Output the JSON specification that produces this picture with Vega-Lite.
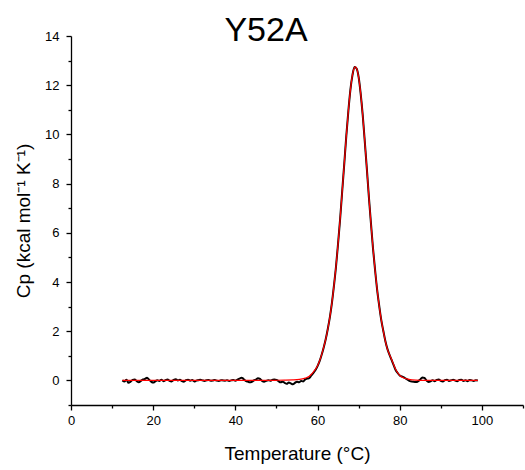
{
  "$schema": "https://vega.github.io/schema/vega-lite/v6.json",
  "width": 452,
  "height": 369,
  "autosize": {"type": "none"},
  "padding": {"left": 71, "top": 36, "right": 2, "bottom": 65},
  "background": "white",
  "title": {
    "text": "Y52A",
    "font": "Liberation Sans",
    "fontSize": 34,
    "fontWeight": "normal",
    "color": "black",
    "anchor": "middle",
    "frame": "group",
    "baseline": "alphabetic",
    "offset": -45,
    "dx": -31
  },
  "config": {
    "view": {"stroke": null},
    "font": "Liberation Sans",
    "axis": {
      "domainColor": "black",
      "domainWidth": 1.3,
      "tickColor": "black",
      "tickWidth": 1.3,
      "labelColor": "black",
      "titleColor": "black",
      "labelFont": "Liberation Sans",
      "titleFont": "Liberation Sans",
      "labelFontSize": 13,
      "titleFontSize": 19,
      "titleFontWeight": "normal",
      "grid": false,
      "labelOverlap": false,
      "labelFlush": false
    }
  },
  "datasets": {
    "exp": [
      {"T": 12.5, "cp": 0.0}, {"T": 13, "cp": -0.04}, {"T": 13.5, "cp": 0.03}, {"T": 14, "cp": -0.1}, {"T": 14.5, "cp": -0.05},
      {"T": 15, "cp": 0.02}, {"T": 15.5, "cp": 0.04}, {"T": 16, "cp": -0.03}, {"T": 16.5, "cp": -0.08}, {"T": 17, "cp": -0.02},
      {"T": 17.5, "cp": 0.04}, {"T": 18, "cp": 0.06}, {"T": 18.5, "cp": 0.11}, {"T": 19, "cp": 0.03}, {"T": 19.5, "cp": -0.05},
      {"T": 20, "cp": -0.09}, {"T": 20.5, "cp": -0.04}, {"T": 21, "cp": 0.01}, {"T": 21.5, "cp": -0.02}, {"T": 22, "cp": 0.03},
      {"T": 22.5, "cp": -0.03}, {"T": 23, "cp": 0.01}, {"T": 23.5, "cp": 0.04}, {"T": 24, "cp": -0.02}, {"T": 24.5, "cp": -0.04},
      {"T": 25, "cp": 0.02}, {"T": 25.5, "cp": 0.05}, {"T": 26, "cp": 0.0}, {"T": 26.5, "cp": 0.03}, {"T": 27, "cp": -0.03},
      {"T": 27.5, "cp": -0.05}, {"T": 28, "cp": 0.01}, {"T": 28.5, "cp": 0.03}, {"T": 29, "cp": -0.01}, {"T": 29.5, "cp": 0.02},
      {"T": 30, "cp": -0.04}, {"T": 30.5, "cp": -0.01}, {"T": 31, "cp": 0.01}, {"T": 31.5, "cp": 0.03}, {"T": 32, "cp": 0.0},
      {"T": 32.5, "cp": -0.02}, {"T": 33, "cp": 0.01}, {"T": 33.5, "cp": 0.02}, {"T": 34, "cp": -0.01}, {"T": 34.5, "cp": 0.0},
      {"T": 35, "cp": 0.02}, {"T": 35.5, "cp": -0.01}, {"T": 36, "cp": -0.02}, {"T": 36.5, "cp": 0.01}, {"T": 37, "cp": 0.0},
      {"T": 37.5, "cp": -0.01}, {"T": 38, "cp": 0.01}, {"T": 38.5, "cp": -0.02}, {"T": 39, "cp": 0.0}, {"T": 39.5, "cp": 0.02},
      {"T": 40, "cp": -0.01}, {"T": 40.5, "cp": 0.03}, {"T": 41, "cp": 0.07}, {"T": 41.5, "cp": 0.11}, {"T": 42, "cp": 0.06},
      {"T": 42.5, "cp": -0.02}, {"T": 43, "cp": -0.05}, {"T": 43.5, "cp": -0.08}, {"T": 44, "cp": -0.06}, {"T": 44.5, "cp": 0.0},
      {"T": 45, "cp": 0.03}, {"T": 45.5, "cp": 0.09}, {"T": 46, "cp": 0.06}, {"T": 46.5, "cp": -0.02}, {"T": 47, "cp": -0.05},
      {"T": 47.5, "cp": -0.02}, {"T": 48, "cp": 0.01}, {"T": 48.5, "cp": -0.01}, {"T": 49, "cp": 0.02}, {"T": 49.5, "cp": 0.04},
      {"T": 50, "cp": 0.02}, {"T": 50.5, "cp": -0.03}, {"T": 51, "cp": -0.08}, {"T": 51.5, "cp": -0.05}, {"T": 52, "cp": -0.1},
      {"T": 52.5, "cp": -0.14}, {"T": 53, "cp": -0.09}, {"T": 53.5, "cp": -0.12}, {"T": 54, "cp": -0.16}, {"T": 54.5, "cp": -0.1},
      {"T": 55, "cp": -0.05}, {"T": 55.5, "cp": -0.08}, {"T": 56, "cp": -0.02}, {"T": 56.5, "cp": -0.04}, {"T": 57, "cp": 0.04},
      {"T": 57.5, "cp": 0.07}, {"T": 58, "cp": 0.1}, {"T": 58.5, "cp": 0.2}, {"T": 59, "cp": 0.3}, {"T": 59.5, "cp": 0.42},
      {"T": 60, "cp": 0.58}, {"T": 60.5, "cp": 0.78}, {"T": 61, "cp": 1.04}, {"T": 61.5, "cp": 1.34}, {"T": 62, "cp": 1.68},
      {"T": 62.5, "cp": 2.1}, {"T": 63, "cp": 2.57}, {"T": 63.5, "cp": 3.15}, {"T": 64, "cp": 3.86}, {"T": 64.5, "cp": 4.64},
      {"T": 65, "cp": 5.58}, {"T": 65.5, "cp": 6.57}, {"T": 66, "cp": 7.69}, {"T": 66.5, "cp": 8.8}, {"T": 67, "cp": 9.94},
      {"T": 67.5, "cp": 10.95}, {"T": 68, "cp": 11.82}, {"T": 68.5, "cp": 12.41}, {"T": 69, "cp": 12.74}, {"T": 69.5, "cp": 12.68},
      {"T": 70, "cp": 12.33}, {"T": 70.5, "cp": 11.65}, {"T": 71, "cp": 10.77}, {"T": 71.5, "cp": 9.7}, {"T": 72, "cp": 8.6},
      {"T": 72.5, "cp": 7.44}, {"T": 73, "cp": 6.38}, {"T": 73.5, "cp": 5.36}, {"T": 74, "cp": 4.49}, {"T": 74.5, "cp": 3.69},
      {"T": 75, "cp": 3.04}, {"T": 75.5, "cp": 2.46}, {"T": 76, "cp": 2.02}, {"T": 76.5, "cp": 1.6}, {"T": 77, "cp": 1.28},
      {"T": 77.5, "cp": 1.05}, {"T": 78, "cp": 0.84}, {"T": 78.5, "cp": 0.63}, {"T": 79, "cp": 0.42}, {"T": 79.5, "cp": 0.3},
      {"T": 80, "cp": 0.2}, {"T": 80.5, "cp": 0.16}, {"T": 81, "cp": 0.12}, {"T": 81.5, "cp": 0.07}, {"T": 82, "cp": 0.02},
      {"T": 82.5, "cp": -0.03}, {"T": 83, "cp": -0.05}, {"T": 83.5, "cp": -0.06}, {"T": 84, "cp": -0.07}, {"T": 84.5, "cp": -0.03},
      {"T": 85, "cp": 0.04}, {"T": 85.5, "cp": 0.12}, {"T": 86, "cp": 0.1}, {"T": 86.5, "cp": 0.0}, {"T": 87, "cp": -0.06},
      {"T": 87.5, "cp": -0.04}, {"T": 88, "cp": 0.01}, {"T": 88.5, "cp": -0.03}, {"T": 89, "cp": 0.02}, {"T": 89.5, "cp": 0.04},
      {"T": 90, "cp": -0.02}, {"T": 90.5, "cp": -0.04}, {"T": 91, "cp": 0.01}, {"T": 91.5, "cp": 0.03}, {"T": 92, "cp": -0.02},
      {"T": 92.5, "cp": 0.0}, {"T": 93, "cp": 0.03}, {"T": 93.5, "cp": -0.01}, {"T": 94, "cp": -0.03}, {"T": 94.5, "cp": 0.02},
      {"T": 95, "cp": 0.03}, {"T": 95.5, "cp": -0.02}, {"T": 96, "cp": 0.01}, {"T": 96.5, "cp": -0.03}, {"T": 97, "cp": 0.02},
      {"T": 97.5, "cp": 0.0}, {"T": 98, "cp": -0.02}, {"T": 98.5, "cp": 0.01}, {"T": 99, "cp": 0.0}
    ],
    "fit": [
      {"T": 12.5, "cp": 0.0}, {"T": 20, "cp": 0.0}, {"T": 30, "cp": 0.0}, {"T": 40, "cp": 0.0}, {"T": 45, "cp": 0.0},
      {"T": 50, "cp": 0.005}, {"T": 52, "cp": 0.01}, {"T": 54, "cp": 0.02}, {"T": 55, "cp": 0.03}, {"T": 56, "cp": 0.05},
      {"T": 57, "cp": 0.09}, {"T": 58, "cp": 0.17}, {"T": 58.5, "cp": 0.25}, {"T": 59, "cp": 0.35}, {"T": 59.5, "cp": 0.46},
      {"T": 60, "cp": 0.6}, {"T": 60.5, "cp": 0.8}, {"T": 61, "cp": 1.05}, {"T": 61.5, "cp": 1.35}, {"T": 62, "cp": 1.68},
      {"T": 62.5, "cp": 2.09}, {"T": 63, "cp": 2.57}, {"T": 63.5, "cp": 3.16}, {"T": 64, "cp": 3.85}, {"T": 64.5, "cp": 4.65},
      {"T": 65, "cp": 5.57}, {"T": 65.5, "cp": 6.58}, {"T": 66, "cp": 7.68}, {"T": 66.5, "cp": 8.81}, {"T": 67, "cp": 9.93},
      {"T": 67.5, "cp": 10.96}, {"T": 68, "cp": 11.81}, {"T": 68.5, "cp": 12.42}, {"T": 69, "cp": 12.72}, {"T": 69.2, "cp": 12.75},
      {"T": 69.5, "cp": 12.69}, {"T": 70, "cp": 12.32}, {"T": 70.5, "cp": 11.66}, {"T": 71, "cp": 10.76}, {"T": 71.5, "cp": 9.71},
      {"T": 72, "cp": 8.59}, {"T": 72.5, "cp": 7.45}, {"T": 73, "cp": 6.37}, {"T": 73.5, "cp": 5.37}, {"T": 74, "cp": 4.48},
      {"T": 74.5, "cp": 3.7}, {"T": 75, "cp": 3.03}, {"T": 75.5, "cp": 2.47}, {"T": 76, "cp": 2.0}, {"T": 76.5, "cp": 1.6},
      {"T": 77, "cp": 1.27}, {"T": 77.5, "cp": 1.05}, {"T": 78, "cp": 0.86}, {"T": 78.5, "cp": 0.65}, {"T": 79, "cp": 0.45},
      {"T": 79.5, "cp": 0.31}, {"T": 80, "cp": 0.21}, {"T": 80.5, "cp": 0.14}, {"T": 81, "cp": 0.1}, {"T": 82, "cp": 0.05},
      {"T": 83, "cp": 0.02}, {"T": 85, "cp": 0.005}, {"T": 90, "cp": 0.0}, {"T": 99, "cp": 0.0}
    ]
  },
  "encoding": {
    "x": {
      "field": "T",
      "type": "quantitative",
      "scale": {"domain": [0, 110], "nice": false, "zero": false},
      "axis": {
        "title": "Temperature (°C)",
        "values": [0, 10, 20, 30, 40, 50, 60, 70, 80, 90, 100, 110],
        "labelExpr": "datum.value % 20 === 0 ? datum.label : ''",
        "tickSize": {"condition": {"test": "datum.value % 20 === 0", "value": 5}, "value": 3},
        "labelPadding": 4,
        "titlePadding": 17
      }
    },
    "y": {
      "field": "cp",
      "type": "quantitative",
      "scale": {"domain": [-1, 14], "nice": false, "zero": false},
      "axis": {
        "title": "Cp (kcal mol⁻¹ K⁻¹)",
        "values": [-1, 0, 1, 2, 3, 4, 5, 6, 7, 8, 9, 10, 11, 12, 13, 14],
        "labelExpr": "datum.value % 2 === 0 ? datum.label : ''",
        "tickSize": {"condition": {"test": "datum.value % 2 === 0", "value": 5}, "value": 3},
        "labelPadding": 7,
        "titlePadding": 11
      }
    }
  },
  "layer": [
    {
      "data": {"name": "exp"},
      "mark": {"type": "line", "color": "black", "strokeWidth": 2, "interpolate": "monotone"}
    },
    {
      "data": {"name": "fit"},
      "mark": {"type": "line", "color": "red", "strokeWidth": 1.2, "interpolate": "monotone"}
    }
  ]
}
